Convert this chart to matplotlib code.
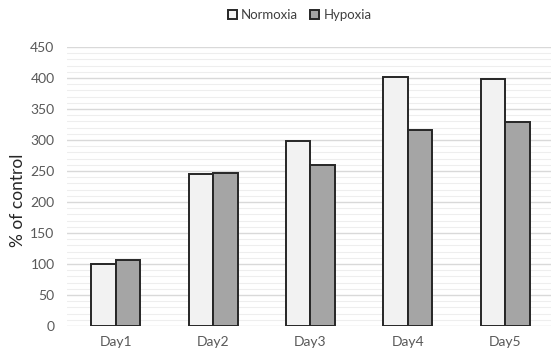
import numpy as np
import matplotlib.pyplot as plt
from matplotlib.ticker import MultipleLocator

days = ["Day1", "Day2", "Day3", "Day4", "Day5"]
normoxia = [100, 245, 299, 401, 399]
hypoxia = [106, 246, 260, 316, 329]

plt.rcParams['font.family'] = ['Lato', 'DejaVu Sans']

fig = plt.figure(figsize=(5.51, 3.55), dpi=100)
ax = fig.add_axes([0.1216, 0.0817, 0.8784, 0.7859])

x = np.arange(len(days))
w = 0.252
ax.bar(x - w / 2, normoxia, w, color="#f2f2f2", edgecolor="#262626", linewidth=1.4,
       label="Normoxia", zorder=3)
ax.bar(x + w / 2, hypoxia, w, color="#a5a5a5", edgecolor="#262626", linewidth=1.4,
       label="Hypoxia", zorder=3)

ax.set_xlim(-0.5, 4.47)
ax.set_ylim(0, 450)
ax.yaxis.set_major_locator(MultipleLocator(50))
ax.yaxis.set_minor_locator(MultipleLocator(10))
ax.grid(which="major", axis="y", color="#d9d9d9", linewidth=1.0, zorder=0)
ax.grid(which="minor", axis="y", color="#eeeeee", linewidth=0.8, zorder=0)
for s in ax.spines.values():
    s.set_visible(False)
ax.tick_params(which="both", length=0)
ax.tick_params(axis="y", labelsize=10, labelcolor="#595959", pad=9)
ax.tick_params(axis="x", labelsize=10, labelcolor="#595959", pad=7)
ax.set_xticks(x, days)
ax.set_ylabel("% of control", fontsize=12.5, color="#262626")
ax.yaxis.set_label_coords(-0.085, 0.45)

fig.legend(loc="center", bbox_to_anchor=(0.544, 0.958), ncol=2, frameon=False,
           fontsize=9.5, handlelength=0.7, handleheight=0.7, handletextpad=0.3,
           columnspacing=0.9, labelcolor="#404040")

fig.savefig("out.png", dpi=100)
